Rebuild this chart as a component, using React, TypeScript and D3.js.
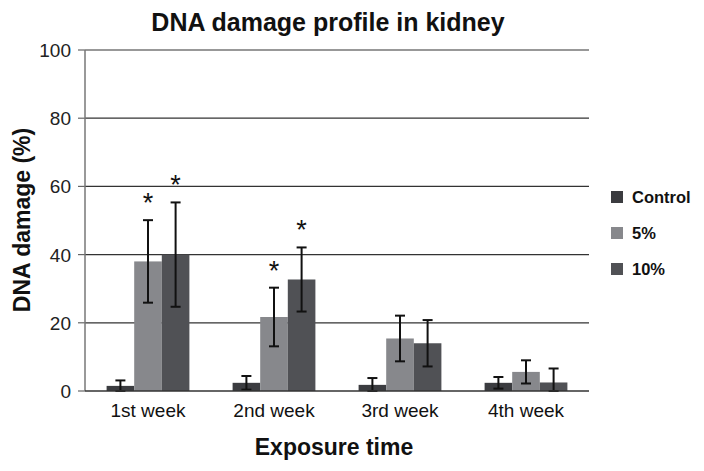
import React from "react";
import * as d3 from "d3";

const categories = ["1st week", "2nd week", "3rd week", "4th week"];
const seriesNames = ["Control", "5%", "10%"];
const controlValues = [1.5, 2.4, 1.8, 2.4];
const controlErrors = [1.6, 2.0, 2.0, 1.7];
const fiveValues = [38.0, 21.7, 15.4, 5.6];
const fiveErrors = [12.1, 8.6, 6.7, 3.4];
const tenValues = [40.0, 32.7, 14.0, 2.5];
const tenErrors = [15.3, 9.4, 6.8, 4.1];
const significant = [
  [false, true, true],
  [false, true, true],
  [false, false, false],
  [false, false, false],
];
const yTicks = [0, 20, 40, 60, 80, 100];
const colors = ["#3b3c40", "#87888c", "#505155"];

const W = 704;
const H = 471;
const left = 85;
const right = 589;
const top = 50;
const bottom = 391;

export default function App() {
  const values = [controlValues, fiveValues, tenValues];
  const errors = [controlErrors, fiveErrors, tenErrors];
  const x = d3.scaleBand<string>().domain(categories).range([left, right]).paddingInner(0).paddingOuter(0);
  const bw = 27.6;
  const y = d3.scaleLinear().domain([0, 100]).range([bottom, top]);
  const font = "Liberation Sans, Arial, sans-serif";
  return (
    <svg width={W} height={H} style={{ position: "absolute", left: 0, top: 0, background: "#fff" }} fontFamily={font}>
      <rect width={W} height={H} fill="#fff" />
      <text x={328} y={31} textAnchor="middle" fontSize={25} fontWeight="bold" fill="#111">
        DNA damage profile in kidney
      </text>
      {yTicks.map((t) => (
        <g key={t}>
          {t > 0 && <line x1={left} x2={right} y1={y(t)} y2={y(t)} stroke="#333" strokeWidth={1.2} />}
          <line x1={78} x2={left} y1={y(t)} y2={y(t)} stroke="#666" strokeWidth={1.2} />
          <text x={71} y={y(t) + 7} textAnchor="end" fontSize={19} fill="#222">
            {t}
          </text>
        </g>
      ))}
      <line x1={left} x2={left} y1={top} y2={bottom} stroke="#777" strokeWidth={1.5} />
      {categories.map((c, i) => {
        const cx = x(c)! + x.bandwidth() / 2;
        return (
          <g key={c}>
            {seriesNames.map((s, j) => {
              const bx = cx - 1.5 * bw + j * bw;
              const v = values[j][i];
              const e = errors[j][i];
              const mid = bx + bw / 2;
              const hi = y(v + e);
              const lo = y(Math.max(0, v - e));
              return (
                <g key={s}>
                  <rect x={bx} y={y(v)} width={bw} height={bottom - y(v)} fill={colors[j]} />
                  <line x1={mid} x2={mid} y1={hi} y2={lo} stroke="#111" strokeWidth={2} />
                  <line x1={mid - 5} x2={mid + 5} y1={hi} y2={hi} stroke="#111" strokeWidth={2} />
                  <line x1={mid - 5} x2={mid + 5} y1={lo} y2={lo} stroke="#111" strokeWidth={2} />
                  {significant[i][j] && (
                    <text x={mid} y={hi - 8} textAnchor="middle" fontSize={27} fill="#111">
                      *
                    </text>
                  )}
                </g>
              );
            })}
            <text x={cx} y={417} textAnchor="middle" fontSize={19} fill="#111">
              {c}
            </text>
          </g>
        );
      })}
      <line x1={left} x2={right} y1={bottom} y2={bottom} stroke="#333" strokeWidth={1.5} />
      <text x={334} y={455} textAnchor="middle" fontSize={23} fontWeight="bold" fill="#111">
        Exposure time
      </text>
      <text transform={`translate(30,220) rotate(-90)`} textAnchor="middle" fontSize={23} fontWeight="bold" fill="#111">
        DNA damage (%)
      </text>
      {seriesNames.map((s, j) => (
        <g key={s}>
          <rect x={611} y={191 + j * 36} width={12} height={12} fill={colors[j]} />
          <text x={632} y={203 + j * 36} fontSize={16.5} fontWeight="bold" fill="#111">
            {s}
          </text>
        </g>
      ))}
    </svg>
  );
}
